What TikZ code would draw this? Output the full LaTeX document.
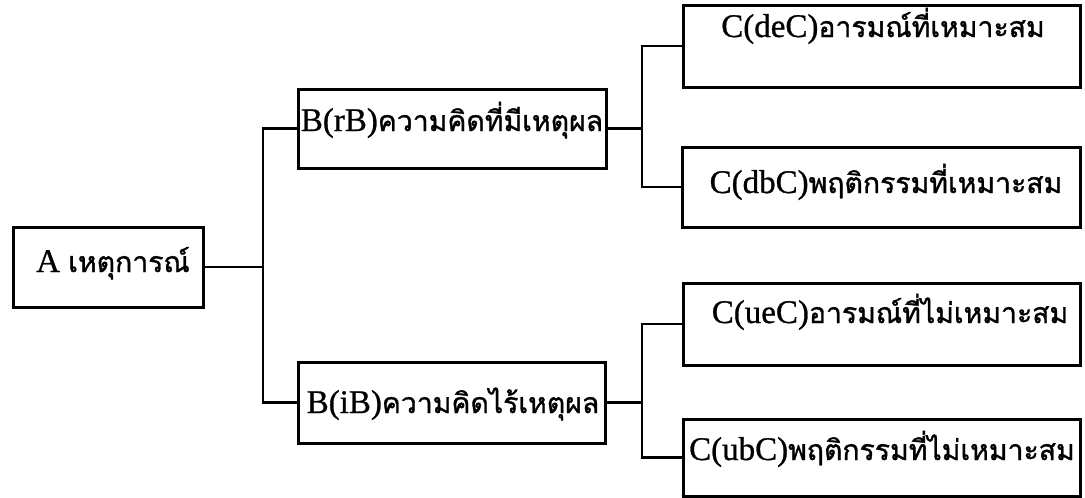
\documentclass[tikz,border=0pt]{standalone}
\usepackage{fontspec}
\setmainfont[FakeBold=0.8]{Liberation Serif}
\newfontfamily\thai[Script=Thai,Scale=0.86,FakeBold=1.2]{Loma}
\begin{document}
\begin{tikzpicture}[x=1pt,y=-1pt,
  box/.style={draw,line width=3pt,rectangle,inner sep=0pt},
  lbl/.style={anchor=base,inner sep=0pt,font=\fontsize{33}{36}\selectfont},
  conn/.style={line width=2.2pt}]
\useasboundingbox (0,0) rectangle (1085,498);
% boxes
\node[box,minimum width=190pt,minimum height=80pt] (A) at (108,267) {};
\node[box,minimum width=308pt,minimum height=79pt] (B1) at (452,128.5) {};
\node[box,minimum width=307pt,minimum height=81pt] (B2) at (451.5,402.5) {};
\node[box,minimum width=397pt,minimum height=82pt] (C1) at (882,46) {};
\node[box,minimum width=398pt,minimum height=80pt] (C2) at (881,187) {};
\node[box,minimum width=397pt,minimum height=82pt] (C3) at (881.5,324) {};
\node[box,minimum width=397pt,minimum height=77pt] (C4) at (881.5,457.5) {};
% labels
\node[lbl] (At) at (113,272) {A {\thai เหตุการณ์}};
\node[lbl] (B1t) at (452,131) {B(rB){\thai ความคิดที่มีเหตุผล}};
\node[lbl] (B2t) at (453,413) {B(iB){\thai ความคิดไร้เหตุผล}};
\node[lbl] (C1t) at (883,37) {C(deC){\thai อารมณ์ที่เหมาะสม}};
\node[lbl] (C2t) at (886,193) {C(dbC){\thai พฤติกรรมที่เหมาะสม}};
\node[lbl] (C3t) at (890,323) {C(ueC){\thai อารมณ์ที่ไม่เหมาะสม}};
\node[lbl] (C4t) at (882,460) {C(ubC){\thai พฤติกรรมที่ไม่เหมาะสม}};
% junctions
\coordinate (ja) at (263,0);
\coordinate (jb) at (642,0);
% connectors
\draw[conn] (A.east) -- (A.east -| ja);
\draw[conn] (B1.west) -- (B1.west -| ja) -- (B2.west -| ja) -- (B2.west);
\draw[conn] (B1.east) -- (B1.east -| jb);
\draw[conn] (C1.west) -- (C1.west -| jb) -- (C2.west -| jb) -- (C2.west);
\draw[conn] (B2.east) -- (B2.east -| jb);
\draw[conn] (C3.west) -- (C3.west -| jb) -- (C4.west -| jb) -- (C4.west);
\end{tikzpicture}
\end{document}
